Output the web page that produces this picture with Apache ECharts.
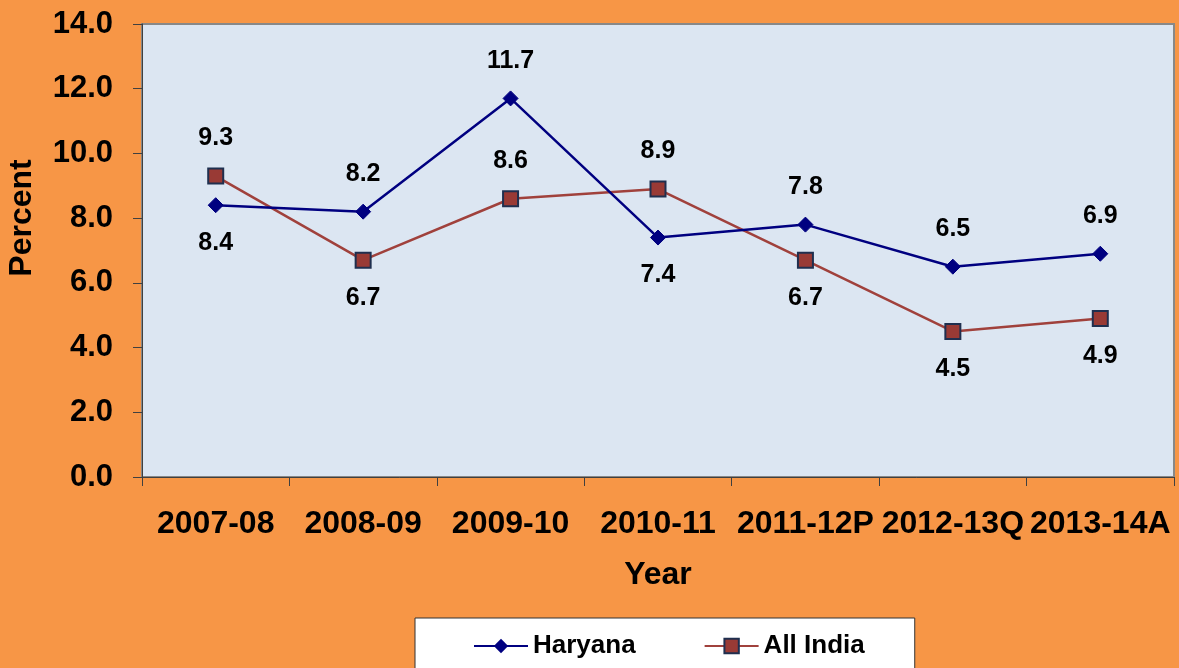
<!DOCTYPE html>
<html>
<head>
<meta charset="utf-8">
<script src="https://cdn.jsdelivr.net/npm/echarts@6/dist/echarts.min.js"></script>
<style>
  html, body { margin: 0; padding: 0; background: #F79646; }
  #chart { width: 1179px; height: 668px; }
</style>
</head>
<body>
<div id="chart"></div>
<script>
// 数据
const years = ['2007-08', '2008-09', '2009-10', '2010-11', '2011-12P', '2012-13Q', '2013-14A'];
const haryana = [8.4, 8.2, 11.7, 7.4, 7.8, 6.5, 6.9];
const allIndia = [9.3, 6.7, 8.6, 8.9, 6.7, 4.5, 4.9];
// 标签位置
const haryanaLabelPos = ['bottom', 'top', 'top', 'bottom', 'top', 'top', 'top'];
const allIndiaLabelPos = ['top', 'bottom', 'top', 'top', 'bottom', 'bottom', 'bottom'];

const font = '"Liberation Sans", Arial, sans-serif';

const withLabels = (values, positions) =>
  values.map((v, i) => ({ value: v, label: { position: positions[i] } }));

const chart = echarts.init(document.getElementById('chart'));

const labelStyle = {
  show: true,
  distance: 17,
  color: '#000',
  fontFamily: font,
  fontWeight: 'bold',
  fontSize: 25,
  formatter: p => p.value.toFixed(1)
};

chart.setOption({
  backgroundColor: '#F79646',
  animation: false,
  grid: {
    left: 142,
    right: 5,
    top: 24,
    bottom: 191,
    show: true,
    backgroundColor: '#DCE6F2',
    borderColor: '#888888',
    borderWidth: 2
  },
  legend: {
    left: 415,
    top: 618,
    padding: [15, 50, 30, 58],
    itemGap: 68,
    itemWidth: 54,
    itemHeight: 18,
    backgroundColor: '#ffffff',
    borderColor: '#333333',
    borderWidth: 1,
    borderRadius: 0,
    textStyle: { fontFamily: font, fontWeight: 'bold', fontSize: 26, color: '#000' },
    data: ['Haryana', 'All India']
  },
  graphic: [{
    type: 'text',
    x: 22,
    y: 218,
    rotation: Math.PI / 2,
    style: {
      text: 'Percent',
      fontFamily: font,
      fontWeight: 'bold',
      fontSize: 32,
      fill: '#000',
      align: 'center',
      verticalAlign: 'middle'
    }
  }],
  xAxis: {
    type: 'category',
    data: years,
    boundaryGap: true,
    name: 'Year',
    nameLocation: 'middle',
    nameGap: 82,
    nameTextStyle: { fontFamily: font, fontWeight: 'bold', fontSize: 32, color: '#000' },
    axisLine: { lineStyle: { color: '#404040', width: 1 } },
    axisTick: { show: true, length: 9, alignWithLabel: false, lineStyle: { color: '#404040' } },
    axisLabel: { margin: 31, color: '#000', fontFamily: font, fontWeight: 'bold', fontSize: 32, interval: 0 },
    splitLine: { show: false }
  },
  yAxis: {
    type: 'value',
    min: 0,
    max: 14,
    interval: 2,
    axisLine: { show: true, lineStyle: { color: '#404040', width: 1 } },
    axisTick: { show: true, length: 9, lineStyle: { color: '#404040' } },
    axisLabel: {
      margin: 29,
      color: '#000',
      fontFamily: font,
      fontWeight: 'bold',
      fontSize: 31,
      formatter: v => v.toFixed(1)
    },
    splitLine: { show: false }
  },
  series: [
    {
      name: 'Haryana',
      type: 'line',
      data: withLabels(haryana, haryanaLabelPos),
      symbol: 'diamond',
      symbolSize: 15,
      lineStyle: { color: '#000080', width: 2.5 },
      itemStyle: { color: '#000080', borderColor: '#000080' },
      label: labelStyle,
      z: 3
    },
    {
      name: 'All India',
      type: 'line',
      data: withLabels(allIndia, allIndiaLabelPos),
      symbol: 'rect',
      symbolSize: 15,
      lineStyle: { color: '#A0413C', width: 2.5 },
      itemStyle: { color: '#993A35', borderColor: '#1F2F4F', borderWidth: 2 },
      label: labelStyle,
      z: 2
    }
  ]
});
</script>
</body>
</html>
